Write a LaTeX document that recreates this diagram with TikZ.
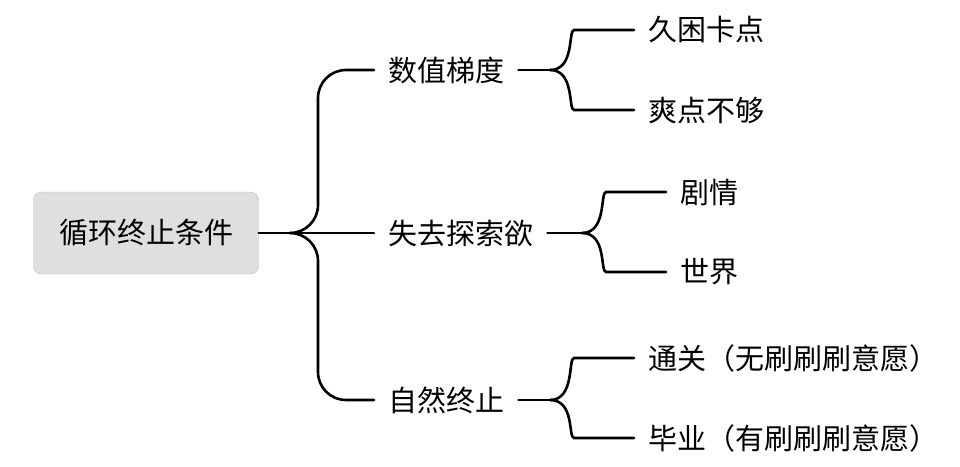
\documentclass[tikz,border=0pt]{standalone}
\usepackage{fontspec}
\newfontfamily\cjk{Noto Sans CJK SC}
\begin{document}
\begin{tikzpicture}[x=1pt,y=-1pt,
  lbl/.style={anchor=west,font=\cjk\fontsize{29}{32}\selectfont,inner sep=0pt},
  conn/.style={line width=2.6pt,rounded corners=28,line cap=round}]
\useasboundingbox (0,0) rectangle (960,466);
\node[draw=gray!50,fill=gray!25,rounded corners=8,minimum width=225,minimum height=82,font=\cjk\fontsize{29}{32}\selectfont] (root) at (146,233) {循环终止条件};
\node[lbl] (a) at (388,70) {数值梯度};
\node[lbl] (b) at (388,233) {失去探索欲};
\node[lbl] (c) at (388,400) {自然终止};
\node[lbl] (a1) at (648,30) {久困卡点};
\node[lbl] (a2) at (648,110) {爽点不够};
\node[lbl] (b1) at (680,192) {剧情};
\node[lbl] (b2) at (680,272) {世界};
\node[lbl] (c1) at (648,358) {通关（无刷刷刷意愿）};
\node[lbl] (c2) at (648,438) {毕业（有刷刷刷意愿）};
\coordinate (j0) at (290,233);
\draw[conn] (root.east) -- (j0);
\draw[conn] (j0) -| (318,70) -- ([xshift=-14]a.west);
\draw[conn] (j0) -- ([xshift=-14]b.west);
\draw[conn] (j0) -| (318,400) -- ([xshift=-14]c.west);
\coordinate (ja) at (550,70);
\coordinate (jb) at (582,233);
\coordinate (jc) at (550,400);
\draw[conn] ([xshift=14]a.east) -- (ja);
\draw[conn] (ja) .. controls (575,70) and (568,30) .. (602,30) -- ([xshift=-14]a1.west);
\draw[conn] (ja) .. controls (575,70) and (568,110) .. (602,110) -- ([xshift=-14]a2.west);
\draw[conn] ([xshift=14]b.east) -- (jb);
\draw[conn] (jb) .. controls (607,233) and (600,192) .. (634,192) -- ([xshift=-14]b1.west);
\draw[conn] (jb) .. controls (607,233) and (600,272) .. (634,272) -- ([xshift=-14]b2.west);
\draw[conn] ([xshift=14]c.east) -- (jc);
\draw[conn] (jc) .. controls (575,400) and (568,358) .. (602,358) -- ([xshift=-14]c1.west);
\draw[conn] (jc) .. controls (575,400) and (568,438) .. (602,438) -- ([xshift=-14]c2.west);
\end{tikzpicture}
\end{document}
